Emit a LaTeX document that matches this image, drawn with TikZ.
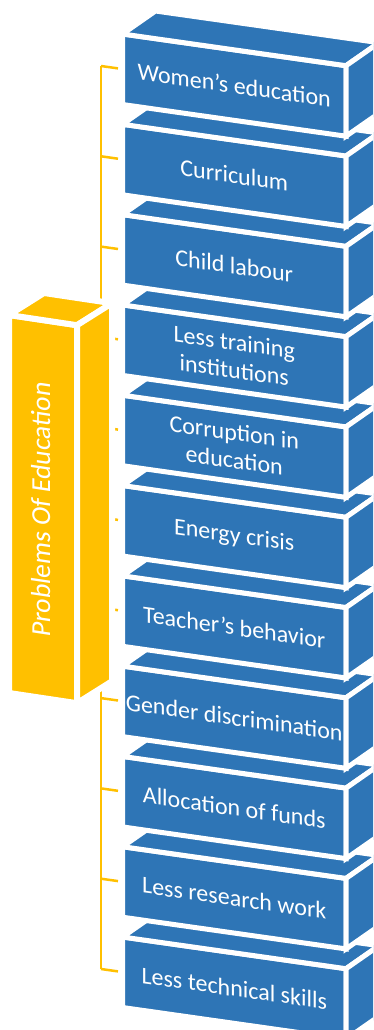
\documentclass[tikz,border=0pt]{standalone}
\usepackage{fontspec}
\setmainfont{Carlito}
\usetikzlibrary{calc}
\definecolor{boxblue}{HTML}{2E75B6}
\definecolor{gold}{HTML}{FFC000}
\tikzset{
  face/.style={draw=white, line width=5pt, line join=miter, fill=boxblue},
  goldface/.style={draw=white, line width=6pt, line join=miter, fill=gold},
  boxtext/.style={text=white, font=\fontsize{24}{28}\selectfont, align=center, inner sep=0pt, yslant=-0.142},
  titletext/.style={text=white, font=\fontsize{27.5}{30}\selectfont, inner sep=0pt, yslant=-0.15, rotate=90},
  conn/.style={draw=gold, line width=2.5pt},
}
\begin{document}
\begin{tikzpicture}[x=1pt,y=-1pt]
\useasboundingbox (0,0) rectangle (373,1030);
\fill[white] (0,0) rectangle (373,1030);
\clip (0,0) rectangle (373,1030);
% connectors
\foreach \i in {0,...,10}{
  \pgfmathsetmacro\yy{34+90.3*\i}
  \coordinate (s\i) at (101,\yy+32);
  \coordinate (e\i) at (118,\yy+34.4);
  \draw[conn] (s\i) -- (e\i);
}
\draw[conn] (s0) -- (s10);
% root box
\coordinate (ya) at (9,315);
\coordinate (yb) at (77,325.2);
\path[goldface] (ya) -- (yb) -- ($(yb)+(0,378)$) -- ($(ya)+(0,378)$) -- cycle;
\path[goldface] (ya) -- (yb) -- ($(yb)+(35,-22)$) -- ($(ya)+(35,-22)$) -- cycle;
\path[goldface] (yb) -- ($(yb)+(35,-22)$) -- ($(yb)+(35,356)$) -- ($(yb)+(0,378)$) -- cycle;
\node[titletext] (root) at (41,509) {Problems Of Education};
% item boxes, drawn bottom to top
\foreach \i/\t in {10/{Less technical skills},9/{Less research work},8/{Allocation of funds},7/{Gender discrimination},6/{Teacher’s behavior},5/{Energy crisis},4/{Corruption in\\education},3/{Less training\\institutions},2/{Child labour},1/{Curriculum},0/{Women’s education}}{
  \pgfmathsetmacro\yy{34+90.3*\i}
  \coordinate (A\i) at (122.5,\yy);
  \coordinate (B\i) at (346,\yy+31.7);
  \path[face] (A\i) -- (B\i) -- ($(B\i)+(0,70.5)$) -- ($(A\i)+(0,70.5)$) -- cycle;
  \path[face] (A\i) -- (B\i) -- ($(B\i)+(33,-23)$) -- ($(A\i)+(33,-23)$) -- cycle;
  \path[face] (B\i) -- ($(B\i)+(33,-23)$) -- ($(B\i)+(33,47.5)$) -- ($(B\i)+(0,70.5)$) -- cycle;
  \node[boxtext] (n\i) at (234.25,\yy+51.1) {\t};
}
\end{tikzpicture}
\end{document}
